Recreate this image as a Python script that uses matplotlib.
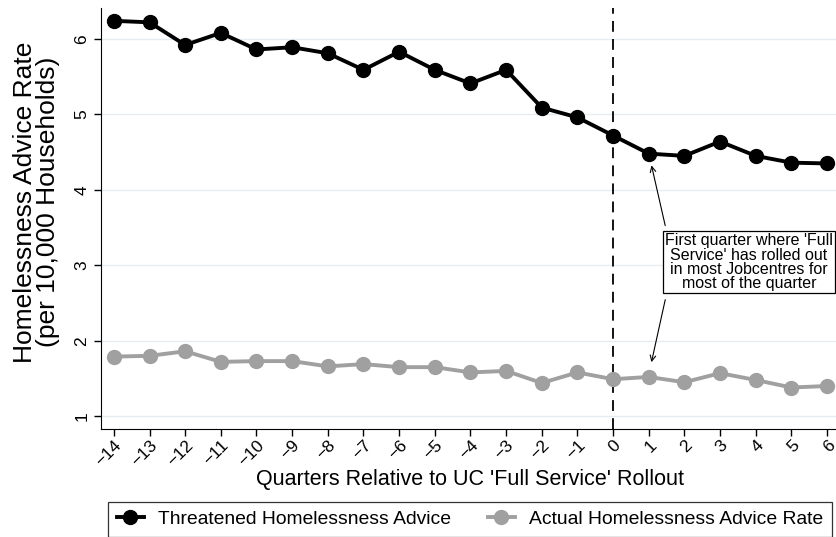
import matplotlib
matplotlib.use("Agg")
import matplotlib.pyplot as plt

plt.rcParams["font.family"] = ["Liberation Sans", "DejaVu Sans"]

# ---------------------------------------------------------------------------
# Data
# ---------------------------------------------------------------------------
quarters = list(range(-14, 7))
threatened = [6.24, 6.22, 5.92, 6.08, 5.86, 5.89, 5.81, 5.59, 5.83, 5.59, 5.41,
              5.59, 5.09, 4.96, 4.72, 4.48, 4.45, 4.64, 4.45, 4.36, 4.35]
actual = [1.79, 1.80, 1.86, 1.72, 1.73, 1.73, 1.66, 1.69, 1.65, 1.65, 1.58,
          1.60, 1.44, 1.58, 1.49, 1.52, 1.45, 1.57, 1.48, 1.38, 1.40]
yticks = [1, 2, 3, 4, 5, 6]
note = "First quarter where 'Full\nService' has rolled out\nin most Jobcentres for\nmost of the quarter"

# ---------------------------------------------------------------------------
# Figure
# ---------------------------------------------------------------------------
fig = plt.figure(figsize=(8.37, 5.37), dpi=100)
ax = fig.add_axes([0.1207, 0.2011, 0.8793, 0.784])

ax.plot(quarters, threatened, color="black", lw=2.8, marker="o", ms=10,
        label="Threatened Homelessness Advice", zorder=3)
ax.plot(quarters, actual, color="#a0a0a0", lw=2.8, marker="o", ms=10,
        label="Actual Homelessness Advice Rate", zorder=3)
ax.axvline(0, color="black", lw=1.3, ls=(0, (6, 4)), zorder=2)

ax.set_xlim(-14.36, 6.28)
ax.set_ylim(0.83, 6.41)
ax.set_xticks(quarters)
ax.set_xticklabels([str(q).replace("-", "\u2212") for q in quarters],
                   rotation=45, ha="right", rotation_mode="anchor")
ax.set_yticks(yticks)
ax.tick_params(axis="both", labelsize=12.5, length=5, width=1, color="black")
ax.tick_params(axis="x", pad=1)
for lbl in ax.get_yticklabels():
    lbl.set_rotation(90)
    lbl.set_va("center")
ax.grid(axis="y", color="#e4eef1", lw=1)
ax.set_axisbelow(True)
for side in ("top", "right"):
    ax.spines[side].set_visible(False)

ax.set_ylabel("Homelessness Advice Rate\n(per 10,000 Households)",
              fontsize=19, linespacing=0.93, va="center")
ax.yaxis.set_label_coords(-0.088, 0.539)
ax.set_xlabel("Quarters Relative to UC 'Full Service' Rollout",
              fontsize=15.5, va="center")
ax.xaxis.set_label_coords(0.502, -0.1188)

# annotation box + two arrows
ax.text(3.81, 3.04, note, ha="center", va="center", fontsize=11.5,
        linespacing=0.95,
        bbox=dict(boxstyle="square,pad=0.12", fc="white", ec="black", lw=0.9))
ax.annotate("", xy=(1.06, 4.36), xytext=(1.48, 3.49),
            arrowprops=dict(arrowstyle="->", color="black", lw=0.8))
ax.annotate("", xy=(1.06, 1.68), xytext=(1.48, 2.58),
            arrowprops=dict(arrowstyle="->", color="black", lw=0.8))

leg = fig.legend(loc="upper left",
                 bbox_to_anchor=(108 / 837, 0.0, (832 - 108) / 837, 1 - 502 / 537),
                 mode="expand", borderaxespad=0, ncol=2, fontsize=13.9,
                 frameon=True, fancybox=False, edgecolor="black",
                 borderpad=0.45, handlelength=1.4, handletextpad=0.75,
                 columnspacing=1.6)
leg.get_frame().set_linewidth(0.9)

fig.savefig("out.png", dpi=100)
